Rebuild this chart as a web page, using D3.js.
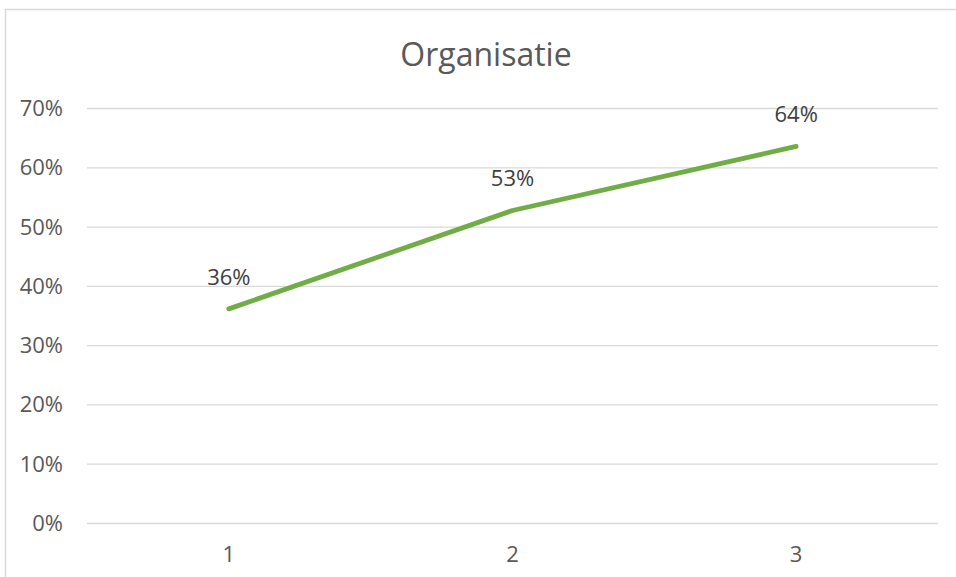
<!DOCTYPE html>
<html>
<head>
<meta charset="utf-8">
<script src="https://cdn.jsdelivr.net/npm/d3@7"></script>
<style>
  body { margin: 0; background: #fff; }
  text { font-family: "Open Sans", sans-serif; }
</style>
</head>
<body>
<div id="chart"></div>
<script>
// data
var categories = ["1", "2", "3"];
var values = [0.362, 0.528, 0.636];
var labels = ["36%", "53%", "64%"];
var yTicks = [0, 0.1, 0.2, 0.3, 0.4, 0.5, 0.6, 0.7];
var title = "Organisatie";

var W = 956, H = 577;
var margin = {top: 108.5, right: 18, bottom: 53.5, left: 87};
var width = W - margin.left - margin.right,
    height = H - margin.top - margin.bottom;

var svg = d3.select("#chart")
  .append("svg")
    .attr("width", W)
    .attr("height", H);

// chart frame (only top and left edges are visible in the picture)
svg.append("path")
  .attr("d", "M5.5,577 V9.5 H956")
  .attr("fill", "none")
  .attr("stroke", "#d9d9d9")
  .attr("stroke-width", 1.5);

svg.append("text")
  .attr("x", 486)
  .attr("y", 66)
  .attr("text-anchor", "middle")
  .style("font-size", "32px")
  .style("fill", "#595959")
  .text(title);

var g = svg.append("g")
  .attr("transform", "translate(" + margin.left + "," + margin.top + ")");

var x = d3.scaleBand()
  .domain(categories)
  .range([0, width]);

var y = d3.scaleLinear()
  .domain([0, 0.7])
  .range([height, 0]);

// gridlines
g.append("g")
  .selectAll("line")
  .data(yTicks)
  .enter()
  .append("line")
    .attr("x1", 0)
    .attr("x2", width)
    .attr("y1", function(d) { return y(d); })
    .attr("y2", function(d) { return y(d); })
    .attr("stroke", "#d9d9d9")
    .attr("stroke-width", 1.3);

// y axis labels
var yAxis = g.append("g")
  .call(d3.axisLeft(y).tickValues(yTicks).tickFormat(d3.format(".0%")).tickSize(0).tickPadding(24));
yAxis.select(".domain").remove();
yAxis.selectAll("text")
  .style("font-size", "22px")
  .style("font-family", "'Open Sans', sans-serif")
  .style("fill", "#595959");

// x axis labels
var xAxis = g.append("g")
  .attr("transform", "translate(0," + height + ")")
  .call(d3.axisBottom(x).tickSize(0).tickPadding(23));
xAxis.select(".domain").remove();
xAxis.selectAll("text")
  .style("font-size", "22px")
  .style("font-family", "'Open Sans', sans-serif")
  .style("fill", "#595959");

var line = d3.line()
  .x(function(d, i) { return x(categories[i]) + x.bandwidth() / 2; })
  .y(function(d) { return y(d); });

g.append("path")
  .datum(values)
  .attr("d", line)
  .attr("fill", "none")
  .attr("stroke", "#70ad47")
  .attr("stroke-width", 4.8)
  .attr("stroke-linecap", "round")
  .attr("stroke-linejoin", "round");

// data labels
g.selectAll(".lbl")
  .data(values)
  .enter()
  .append("text")
    .attr("class", "lbl")
    .attr("x", function(d, i) { return x(categories[i]) + x.bandwidth() / 2; })
    .attr("y", function(d) { return y(d) - 24; })
    .attr("text-anchor", "middle")
    .style("font-size", "22px")
    .style("fill", "#404040")
    .text(function(d, i) { return labels[i]; });
</script>
</body>
</html>
